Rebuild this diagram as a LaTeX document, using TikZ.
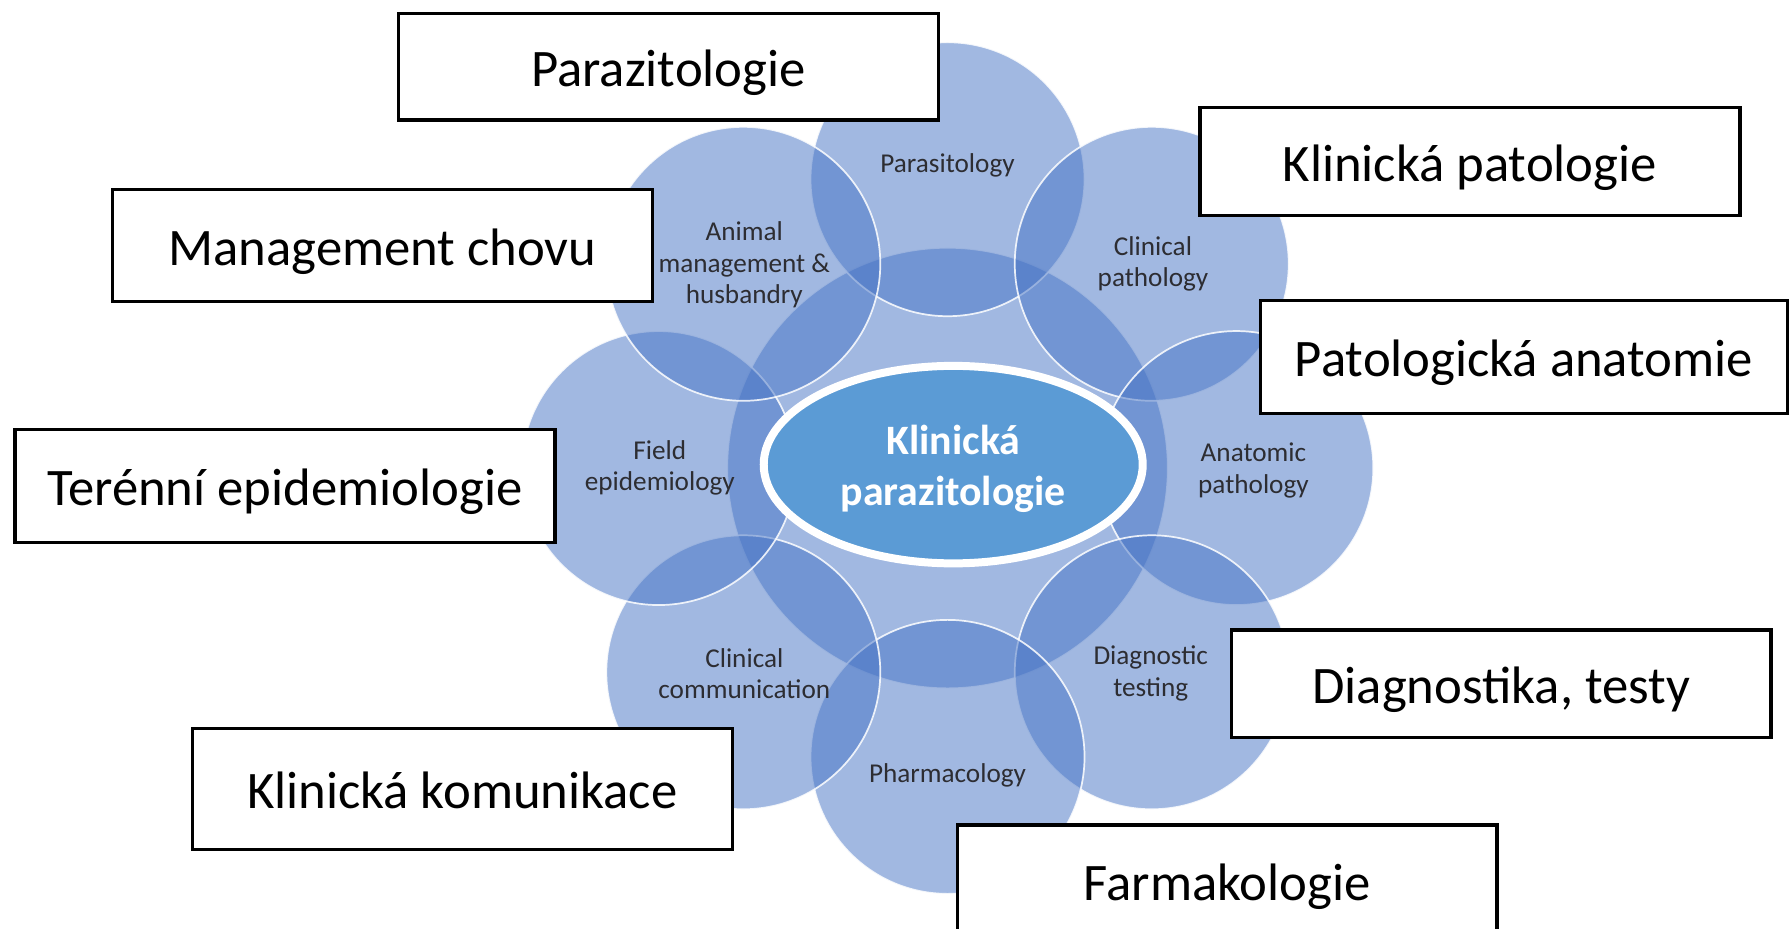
\documentclass[tikz,border=0pt]{standalone}
\usepackage{fontspec}
\setmainfont{Carlito}
\usetikzlibrary{shapes.geometric}
\definecolor{venn}{RGB}{68,114,196}
\definecolor{ellfill}{RGB}{91,155,213}
\definecolor{smalltxt}{RGB}{45,45,50}
\tikzset{
  venncirc/.style={circle, fill=venn, fill opacity=0.5, draw=white, draw opacity=0.85, line width=0.9pt, inner sep=0pt},
  smalllabel/.style={align=center, text=smalltxt, font=\fontsize{14.3}{16.5}\selectfont, inner sep=0pt},
  labelbox/.style={draw=black, line width=1.8pt, fill=white, minimum width=283.8pt, inner sep=0pt, text height=22pt, text depth=1pt, font=\fontsize{27.7}{33}\selectfont},
}
\begin{document}
\begin{tikzpicture}[x=0.6pt,y=-0.6pt]
\useasboundingbox (0,0) rectangle (1568,813);
\clip (0,0) rectangle (1568,813);
% big central circle
\node[venncirc, minimum size=231.6pt] (big) at (830,410) {};
% outer circles
\node[venncirc, minimum size=144pt] (c1) at (830,157) {};
\node[venncirc, minimum size=144pt] (c2) at (1008.9,231.1) {};
\node[venncirc, minimum size=144pt] (c3) at (1083,410) {};
\node[venncirc, minimum size=144pt] (c4) at (1008.9,588.9) {};
\node[venncirc, minimum size=144pt] (c5) at (830,663) {};
\node[venncirc, minimum size=144pt] (c6) at (651.1,588.9) {};
\node[venncirc, minimum size=144pt] (c7) at (577,410) {};
\node[venncirc, minimum size=144pt] (c8) at (651.1,231.1) {};
% central ellipse
\node[ellipse, fill=ellfill, draw=white, line width=4.2pt, minimum width=199.2pt, minimum height=103.8pt, inner sep=0pt] (core) at (835,407) {};
\node[align=center, text=white, font=\bfseries\fontsize{22}{27}\selectfont] (coretxt) at (835,410.5) {Klinická\\parazitologie};
% small labels
\node[smalllabel] (t1) at (830,145) {Parasitology};
\node[smalllabel] (t2) at (1010,231) {Clinical\\pathology};
\node[smalllabel] (t3) at (1098,412) {Anatomic\\pathology};
\node[smalllabel] (t4) at (1008,590) {Diagnostic\\testing};
\node[smalllabel] (t5) at (830,679) {Pharmacology};
\node[smalllabel] (t6) at (652,590) {Clinical\\communication};
\node[smalllabel] (t7) at (578,410) {Field\\epidemiology};
\node[smalllabel] (t8) at (652,232) {Animal\\management \&\\husbandry};
% Czech boxes
\node[labelbox, minimum height=55.8pt] (b1) at (585.5,58.5) {Parazitologie};
\node[labelbox, minimum height=57pt] (b2) at (1287.5,141.5) {Klinická patologie};
\node[labelbox, minimum height=58.8pt] (b3) at (335,215) {Management chovu};
\node[labelbox, minimum height=59.4pt, minimum width=277.2pt] (b4) at (1335,312.5) {Patologická anatomie};
\node[labelbox, minimum height=59.4pt] (b5) at (249.5,425.5) {Terénní epidemiologie};
\node[labelbox, minimum height=56.4pt] (b6) at (1315,599) {Diagnostika, testy};
\node[labelbox, minimum height=63.6pt] (b7) at (405,691) {Klinická komunikace};
\node[labelbox, minimum height=58pt] (b8) at (1075,771) {Farmakologie};
\end{tikzpicture}
\end{document}
